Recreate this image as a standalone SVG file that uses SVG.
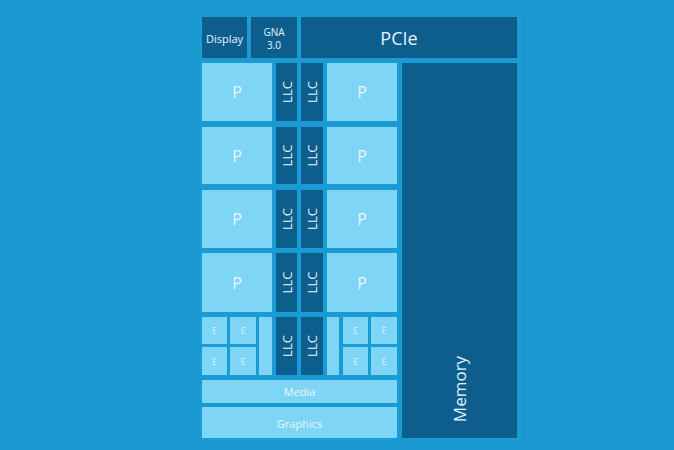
<svg xmlns="http://www.w3.org/2000/svg" width="674" height="450" viewBox="0 0 674 450">
<style>
.d{fill:#0d5e8c}
.l{fill:#7fd5f5}
.t{font-family:"Open Sans","Noto Sans",sans-serif;text-anchor:middle;dominant-baseline:central}
.td{fill:#e3f3fb}
.tl{fill:#e8f8fe}
.te{fill:#d6f2fc;font-size:9px}
.p{font-size:16px}
.llc{font-size:13px}
</style>
<rect width="674" height="450" fill="#1a98d0"/>
<rect x="197" y="12" width="324" height="431" fill="#1b9bd3"/>
<g id="display"><rect class="d" x="202" y="17" width="45" height="41"/><text class="t td" x="224.5" y="38" font-size="11">Display</text></g>
<g id="gna"><rect class="d" x="251" y="17" width="46" height="41"/><text class="t td" x="274" y="31.5" font-size="10">GNA</text><text class="t td" x="274" y="45" font-size="10">3.0</text></g>
<g id="pcie"><rect class="d" x="301" y="17" width="216" height="41"/><text class="t td" x="399" y="38" font-size="18">PCIe</text></g>
<g id="memory"><rect class="d" x="402" y="63" width="115" height="375"/><text class="t td" transform="translate(459,389) rotate(-90)" font-size="17">Memory</text></g>
<g id="p-row1">
<rect class="l" x="202" y="63" width="70" height="58"/><text class="t tl p" x="237" y="92">P</text>
<rect class="d" x="276" y="63" width="21" height="58"/><text class="t td llc" transform="translate(286.5,92) rotate(-90)">LLC</text>
<rect class="d" x="301" y="63" width="22" height="58"/><text class="t td llc" transform="translate(312,92) rotate(-90)">LLC</text>
<rect class="l" x="327" y="63" width="70" height="58"/><text class="t tl p" x="362" y="92">P</text>
</g>
<g id="p-row2">
<rect class="l" x="202" y="127" width="70" height="57"/><text class="t tl p" x="237" y="155.5">P</text>
<rect class="d" x="276" y="127" width="21" height="57"/><text class="t td llc" transform="translate(286.5,155.5) rotate(-90)">LLC</text>
<rect class="d" x="301" y="127" width="22" height="57"/><text class="t td llc" transform="translate(312,155.5) rotate(-90)">LLC</text>
<rect class="l" x="327" y="127" width="70" height="57"/><text class="t tl p" x="362" y="155.5">P</text>
</g>
<g id="p-row3">
<rect class="l" x="202" y="190" width="70" height="58"/><text class="t tl p" x="237" y="219">P</text>
<rect class="d" x="276" y="190" width="21" height="58"/><text class="t td llc" transform="translate(286.5,219) rotate(-90)">LLC</text>
<rect class="d" x="301" y="190" width="22" height="58"/><text class="t td llc" transform="translate(312,219) rotate(-90)">LLC</text>
<rect class="l" x="327" y="190" width="70" height="58"/><text class="t tl p" x="362" y="219">P</text>
</g>
<g id="p-row4">
<rect class="l" x="202" y="253" width="70" height="59"/><text class="t tl p" x="237" y="282.5">P</text>
<rect class="d" x="276" y="253" width="21" height="59"/><text class="t td llc" transform="translate(286.5,282.5) rotate(-90)">LLC</text>
<rect class="d" x="301" y="253" width="22" height="59"/><text class="t td llc" transform="translate(312,282.5) rotate(-90)">LLC</text>
<rect class="l" x="327" y="253" width="70" height="59"/><text class="t tl p" x="362" y="282.5">P</text>
</g>
<g id="e-row">
<rect class="l" x="202" y="317" width="25" height="27"/><text class="t te" x="214.5" y="330.5">E</text>
<rect class="l" x="230" y="317" width="26" height="27"/><text class="t te" x="243" y="330.5">E</text>
<rect class="l" x="202" y="347" width="25" height="28"/><text class="t te" x="214.5" y="361">E</text>
<rect class="l" x="230" y="347" width="26" height="28"/><text class="t te" x="243" y="361">E</text>
<rect class="l" x="259" y="317" width="13" height="58"/>
<rect class="d" x="276" y="317" width="21" height="58"/><text class="t td llc" transform="translate(286.5,346) rotate(-90)">LLC</text>
<rect class="d" x="301" y="317" width="22" height="58"/><text class="t td llc" transform="translate(312,346) rotate(-90)">LLC</text>
<rect class="l" x="327" y="317" width="12" height="58"/>
<rect class="l" x="343" y="317" width="25" height="27"/><text class="t te" x="355.5" y="330.5">E</text>
<rect class="l" x="371" y="317" width="26" height="27"/><text class="t te" x="384" y="330.5">E</text>
<rect class="l" x="343" y="347" width="25" height="28"/><text class="t te" x="355.5" y="361">E</text>
<rect class="l" x="371" y="347" width="26" height="28"/><text class="t te" x="384" y="361">E</text>
</g>
<g id="media"><rect class="l" x="202" y="380" width="195" height="23"/><text class="t tl" x="299.5" y="391.5" font-size="11">Media</text></g>
<g id="graphics"><rect class="l" x="202" y="407" width="195" height="31"/><text class="t tl" x="299.5" y="423" font-size="11">Graphics</text></g>
<g id="connectors"/>
</svg>
